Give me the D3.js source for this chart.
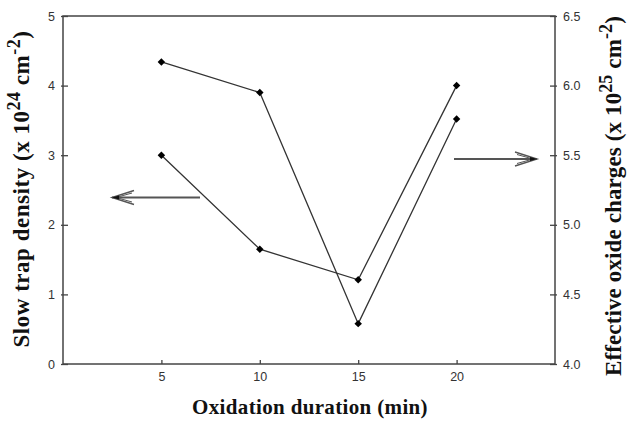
<!DOCTYPE html>
<html>
<head>
<meta charset="utf-8">
<script src="https://cdn.jsdelivr.net/npm/d3@7"></script>
<style>
  html, body { margin: 0; padding: 0; background: #fff; }
  svg { display: block; }
  .tick text { font-family: "Liberation Sans", Arial, sans-serif; font-size: 12.5px; fill: #333; }
  .title { font-family: "Liberation Serif", "Times New Roman", serif; font-weight: bold; fill: #111; }
</style>
</head>
<body>
<svg id="chart" width="627" height="423"></svg>
<script>
// Oxidation duration (min)
const durations = [5, 10, 15, 20];
// Slow trap density, x 10^24 cm^-2 (left axis)
const slowTrap = [3.0, 1.65, 1.21, 4.0];
// Effective oxide charges, x 10^25 cm^-2 (right axis)
const oxideCharges = [6.17, 5.95, 4.29, 5.76];

const xTicks = [5, 10, 15, 20];
const leftTicks = [0, 1, 2, 3, 4, 5];
const rightTicks = [4.0, 4.5, 5.0, 5.5, 6.0, 6.5];

const svg = d3.select("#chart");
const frame = { left: 63, right: 555, top: 16, bottom: 364 };

const x = d3.scaleLinear().domain([0, 25]).range([frame.left, frame.right]);
const yL = d3.scaleLinear().domain([0, 5]).range([frame.bottom, frame.top]);
const yR = d3.scaleLinear().domain([4.0, 6.5]).range([frame.bottom, frame.top]);

const axisColor = "#444";

// frame
svg.append("rect")
  .attr("x", frame.left).attr("y", frame.top)
  .attr("width", frame.right - frame.left).attr("height", frame.bottom - frame.top)
  .attr("fill", "none").attr("stroke", axisColor).attr("stroke-width", 1.5);

function styleAxis(g) {
  g.select(".domain").remove();
  g.selectAll(".tick line").attr("stroke", axisColor).attr("stroke-width", 1.3);
}

// bottom axis (ticks inside)
svg.append("g").attr("transform", `translate(0,${frame.bottom})`)
  .call(d3.axisBottom(x).tickValues(xTicks).tickSize(0).tickPadding(8))
  .call(styleAxis)
  .call(g => g.selectAll(".tick").append("line").attr("y1", 0).attr("y2", -4)
    .attr("stroke", axisColor).attr("stroke-width", 1.3));

// left axis (ticks crossing frame)
svg.append("g").attr("transform", `translate(${frame.left},0)`)
  .call(d3.axisLeft(yL).tickValues(leftTicks).tickFormat(d3.format("d")).tickSize(2).tickPadding(6))
  .call(styleAxis)
  .call(g => g.selectAll(".tick line").attr("x1", 5));

// right axis
svg.append("g").attr("transform", `translate(${frame.right},0)`)
  .call(d3.axisRight(yR).tickValues(rightTicks).tickFormat(d3.format(".1f")).tickSize(2).tickPadding(6))
  .call(styleAxis)
  .call(g => g.selectAll(".tick line").attr("x1", -5));

// series: lines with filled diamond markers
const seriesDefs = [
  { values: slowTrap, y: yL },
  { values: oxideCharges, y: yR }
];

seriesDefs.forEach(s => {
  const pts = durations.map((d, i) => [x(d), s.y(s.values[i])]);
  svg.append("path")
    .attr("d", d3.line()(pts))
    .attr("fill", "none").attr("stroke", "#333").attr("stroke-width", 1.3);
  svg.append("g").selectAll("path")
    .data(pts).join("path")
    .attr("transform", d => `translate(${d[0]},${d[1]}) rotate(45)`)
    .attr("d", d3.symbol(d3.symbolSquare, 28))
    .attr("fill", "#000");
});

// arrows pointing to the axis each series belongs to
function arrow(x0, x1, yv, dir) {
  const g = svg.append("g").attr("stroke", "#555").attr("fill", "none");
  g.append("line").attr("x1", x0).attr("x2", x1).attr("y1", yv).attr("y2", yv)
    .attr("stroke-width", 2);
  const back = x1 - dir * 22;
  g.append("path")
    .attr("d", `M${back},${yv - 7}L${x1},${yv}L${back},${yv + 7}`)
    .attr("stroke-width", 1.4);
  g.append("path")
    .attr("d", `M${back + dir * 2},${yv - 4.5}L${x1 - dir * 4},${yv}L${back + dir * 2},${yv + 4.5}`)
    .attr("stroke-width", 1);
  svg.append("path")
    .attr("d", `M${x1},${yv}L${x1 - dir * 7},${yv - 2}L${x1 - dir * 7},${yv + 2}Z`)
    .attr("fill", "#111");
}
arrow(200, 112, 197.5, -1);
arrow(454, 537, 159, 1);

// stretch a title to a given length by letter spacing
function fitText(t, target) {
  const node = t.node();
  const w = node.getComputedTextLength();
  const n = node.textContent.length;
  t.attr("letter-spacing", Math.max(0, (target - w) / n).toFixed(2));
}

// axis titles
const bt = svg.append("text").attr("class", "title")
  .attr("x", 310).attr("y", 414).attr("text-anchor", "middle")
  .attr("font-size", 21)
  .text("Oxidation duration (min)");
fitText(bt, 236);

const lt = svg.append("text").attr("class", "title")
  .attr("transform", "translate(29,189) rotate(-90)")
  .attr("text-anchor", "middle").attr("font-size", 23);
lt.append("tspan").text("Slow trap density (x 10");
lt.append("tspan").attr("dy", -9).attr("font-size", 18).text("24");
lt.append("tspan").attr("dy", 9).text(" cm");
lt.append("tspan").attr("dy", -9).attr("font-size", 18).text("-2");
lt.append("tspan").attr("dy", 9).text(")");
fitText(lt, 317);

const rt = svg.append("text").attr("class", "title")
  .attr("transform", "translate(621,196) rotate(-90)")
  .attr("text-anchor", "middle").attr("font-size", 23);
rt.append("tspan").text("Effective oxide charges (x  10");
rt.append("tspan").attr("dy", -9).attr("font-size", 18).text("25");
rt.append("tspan").attr("dy", 9).text(" cm");
rt.append("tspan").attr("dy", -9).attr("font-size", 18).text("-2");
rt.append("tspan").attr("dy", 9).text(")");
fitText(rt, 360);
</script>
</body>
</html>
